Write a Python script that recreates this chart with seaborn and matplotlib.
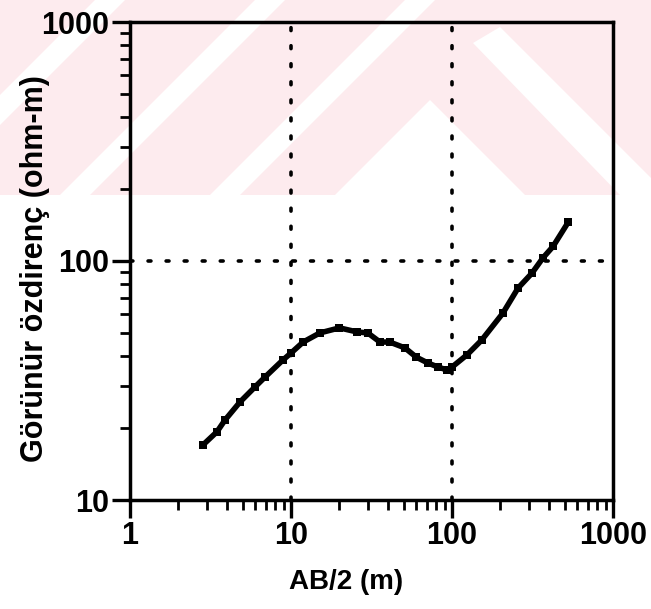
import matplotlib
matplotlib.use("Agg")
import matplotlib.pyplot as plt
from matplotlib.patches import Polygon, Rectangle
from matplotlib.ticker import LogLocator, NullFormatter, FixedLocator, FixedFormatter
import pandas as pd
import seaborn as sns

# sounding curve
ab2 = [2.84, 3.47, 3.89, 4.82, 5.97, 6.9, 8.9, 10, 11.9, 15.1, 20, 25.7, 30, 35.7,
       41, 51, 60, 71, 82, 93, 100, 124, 153, 207, 257, 314, 367, 424, 526]
rho = [17.0, 19.3, 21.6, 25.7, 29.7, 32.7, 38.5, 41.2, 45.8, 50, 52.5, 50.5, 50, 45.8,
       45.8, 43.3, 39.6, 37.4, 36, 35, 36, 40.5, 46.7, 60.5, 77, 89, 103, 115, 145]
xticks = [1, 10, 100, 1000]
yticks = [10, 100, 1000]
tick_labels_x = ["1", "10", "100", "1000"]
tick_labels_y = ["10", "100", "1000"]
grid_x = [10, 100]
grid_y = [100]

df = pd.DataFrame({"ab2": ab2, "rho": rho})

sns.set_style("ticks")
plt.rcParams["font.family"] = ["Liberation Sans", "DejaVu Sans"]
plt.rcParams["font.weight"] = "bold"
plt.rcParams["text.color"] = "black"
plt.rcParams["axes.labelcolor"] = "black"

W, H = 651, 609
fig = plt.figure(figsize=(W / 100, H / 100), dpi=100)

# faint watermark behind the plot
bg = fig.add_axes([0, 0, 1, 1], zorder=-5)
bg.set_xlim(0, W)
bg.set_ylim(H, 0)
bg.axis("off")
pink = "#fdebee"
bg.add_patch(Rectangle((0, 0), W, 195, color=pink, lw=0))
for b in [-100, 60, 210]:
    bg.add_patch(Polygon([(b, 195), (b + 30, 195), (b + 225, 0), (b + 195, 0)],
                         closed=True, color="white", lw=0))
bg.add_patch(Polygon([(430, 100), (335, 195), (525, 195)], closed=True, color="white", lw=0))
bg.add_patch(Polygon([(473, 43), (500, 27), (668, 195), (620, 195)], closed=True, color="white", lw=0))

ax = fig.add_axes([130 / W, 1 - 500 / H, (613 - 130) / W, (500 - 22) / H])
ax.set_facecolor("none")

for gx in grid_x:
    ax.axvline(gx, color="black", lw=2.6, ls=(0, (0.8, 4.2)), dash_capstyle="round", zorder=1)
for gy in grid_y:
    ax.axhline(gy, color="black", lw=2.6, ls=(0, (0.8, 4.2)), dash_capstyle="round", zorder=1)

sns.lineplot(data=df, x="ab2", y="rho", ax=ax, color="black", lw=4,
             marker="s", markersize=6, markeredgewidth=0, zorder=3)

ax.set_xscale("log")
ax.set_yscale("log")
ax.set_xlim(1, 1000)
ax.set_ylim(10, 1000)

ax.xaxis.set_major_locator(FixedLocator(xticks))
ax.xaxis.set_major_formatter(FixedFormatter(tick_labels_x))
ax.yaxis.set_major_locator(FixedLocator(yticks))
ax.yaxis.set_major_formatter(FixedFormatter(tick_labels_y))
ax.xaxis.set_minor_locator(LogLocator(base=10, subs=range(2, 10)))
ax.yaxis.set_minor_locator(LogLocator(base=10, subs=range(2, 10)))
ax.xaxis.set_minor_formatter(NullFormatter())
ax.yaxis.set_minor_formatter(NullFormatter())

ax.tick_params(which="major", direction="out", length=13, width=2.4, labelsize=22, pad=2,
               colors="black", labelcolor="black")
ax.tick_params(which="minor", direction="out", length=7, width=2, colors="black")

for side in ["left", "bottom", "top", "right"]:
    ax.spines[side].set_visible(True)
    ax.spines[side].set_linewidth(2.5)
    ax.spines[side].set_color("black")

ax.set_xlabel("AB/2 (m)", fontsize=20, fontweight="bold", color="black")
ax.set_ylabel("Görünür özdirenç (ohm-m)", fontsize=22, fontweight="bold", color="black")
ax.xaxis.set_label_coords(0.447, -0.145)
ax.yaxis.set_label_coords(-0.165, 0.485)

fig.savefig("out.png", dpi=100)
